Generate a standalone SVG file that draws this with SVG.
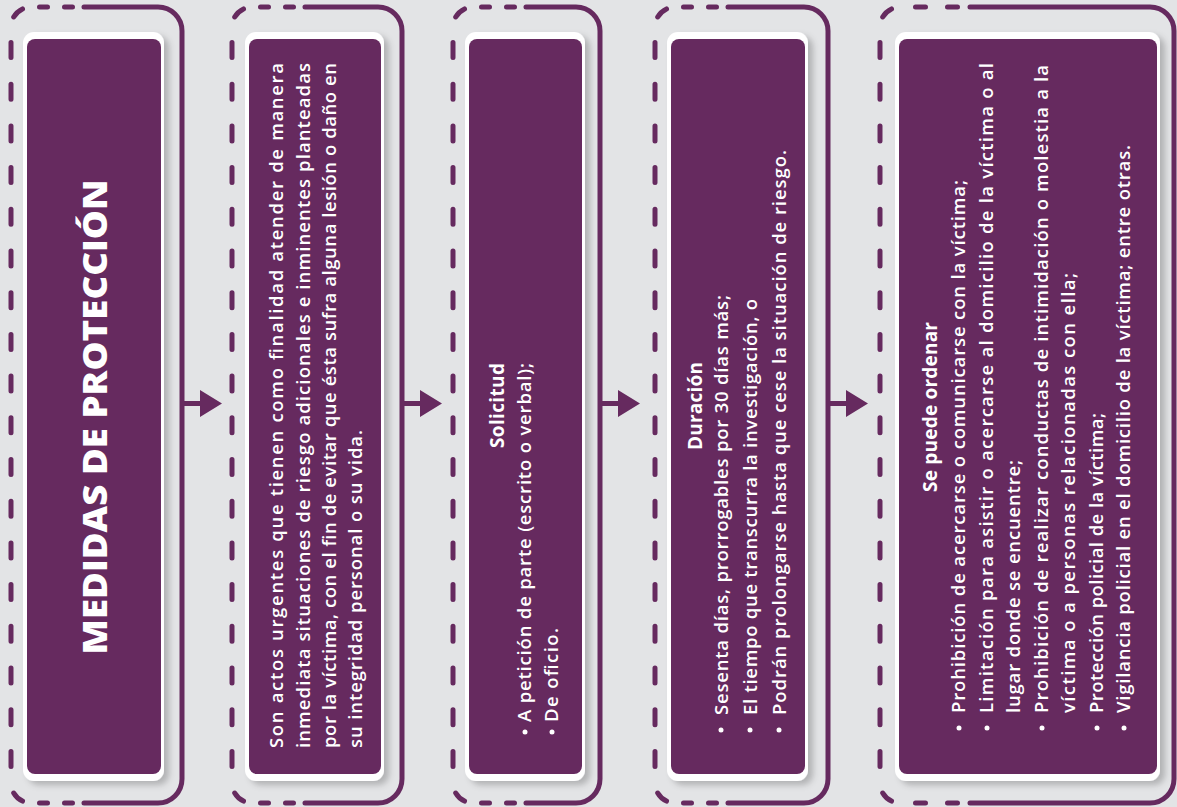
<svg xmlns="http://www.w3.org/2000/svg" width="1177" height="807" viewBox="0 0 1177 807">
  <defs>
    <filter id="sh" x="-10%" y="-5%" width="125%" height="112%">
      <feDropShadow dx="5" dy="4" stdDeviation="3" flood-color="#000" flood-opacity="0.22"/>
    </filter>
    <style>
      .fr{fill:none;stroke:#662a5f;stroke-width:5;stroke-linecap:round}
      .dl{fill:none;stroke:#662a5f;stroke-width:5;stroke-linecap:round;stroke-dasharray:15 26.7}
      .wc{fill:#ffffff;filter:url(#sh)}
      .pc{fill:#662a5f}
      .t{fill:#ffffff;font-family:"Open Sans","Noto Sans","DejaVu Sans",sans-serif;font-size:18.5px;font-weight:600}
      .h{fill:#ffffff;font-family:"Open Sans","Noto Sans","DejaVu Sans",sans-serif;font-size:19px;font-weight:700}
      .big{fill:#ffffff;font-family:"Open Sans","Noto Sans","DejaVu Sans",sans-serif;font-size:33px;font-weight:800}
      .bul{fill:#ffffff}
      .ar{fill:#662a5f}
    </style>
  </defs>
  <rect width="1177" height="807" fill="#e3e4e6"/>

  <g id="node-1">
    <path class="fr" d="M13.7,17 A20 20 0 0 1 22.5,8.9 M39.5,7 H47.5 M64.5,7 H72.5 M13.7,793 A20 20 0 0 0 22.5,801.1 M39.5,803 H47.5 M64.5,803 H72.5"/>
    <path class="dl" d="M11,42.5 V770"/>
    <path class="fr" d="M84,7 H158 A24 24 0 0 1 182,31 V779 A24 24 0 0 1 158,803 H84"/>
    <rect class="wc" x="23" y="32" width="141" height="749" rx="11"/>
    <rect class="pc" x="27" y="39" width="134" height="735" rx="8"/>
    <g transform="rotate(-90)">
      <text class="big" x="-417" y="107" text-anchor="middle" textLength="475" lengthAdjust="spacingAndGlyphs">MEDIDAS DE PROTECCIÓN</text>
    </g>
  </g>

  <g id="node-2">
    <path class="fr" d="M234.7,17 A20 20 0 0 1 243.5,8.9 M260.5,7 H268.5 M285.5,7 H293.5 M234.7,793 A20 20 0 0 0 243.5,801.1 M260.5,803 H268.5 M285.5,803 H293.5"/>
    <path class="dl" d="M232,42.5 V770"/>
    <path class="fr" d="M305,7 H378 A24 24 0 0 1 402,31 V779 A24 24 0 0 1 378,803 H305"/>
    <rect class="wc" x="245" y="32" width="139" height="749" rx="11"/>
    <rect class="pc" x="249" y="39" width="132" height="735" rx="8"/>
    <g transform="rotate(-90)">
      <text class="t" x="-748" y="283" textLength="685" lengthAdjust="spacing">Son actos urgentes que tienen como finalidad atender de manera</text>
      <text class="t" x="-748" y="310" textLength="685" lengthAdjust="spacing">inmediata situaciones de riesgo adicionales e inminentes planteadas</text>
      <text class="t" x="-748" y="336" textLength="685" lengthAdjust="spacing">por la víctima, con el fin de evitar que ésta sufra alguna lesión o daño en</text>
      <text class="t" x="-748" y="362" textLength="318" lengthAdjust="spacing">su integridad personal o su vida.</text>
    </g>
  </g>

  <g id="node-3">
    <path class="fr" d="M455.7,17 A20 20 0 0 1 464.5,8.9 M481.5,7 H489.5 M506.5,7 H514.5 M455.7,793 A20 20 0 0 0 464.5,801.1 M481.5,803 H489.5 M506.5,803 H514.5"/>
    <path class="dl" d="M453,42.5 V770"/>
    <path class="fr" d="M526,7 H576 A24 24 0 0 1 600,31 V779 A24 24 0 0 1 576,803 H526"/>
    <rect class="wc" x="465" y="32" width="120" height="749" rx="11"/>
    <rect class="pc" x="469" y="39" width="113" height="735" rx="8"/>
    <g transform="rotate(-90)">
      <text class="h" x="-405.5" y="504" text-anchor="middle" textLength="85" lengthAdjust="spacing">Solicitud</text>
      <text class="t" x="-722" y="531" textLength="359" lengthAdjust="spacing">A petición de parte (escrito o verbal);</text>
      <text class="t" x="-722" y="558" textLength="94" lengthAdjust="spacing">De oficio.</text>
    </g>
    <circle class="bul" cx="525" cy="732" r="2.5"/>
    <circle class="bul" cx="552" cy="732" r="2.5"/>
  </g>

  <g id="node-4">
    <path class="fr" d="M657.7,17 A20 20 0 0 1 666.5,8.9 M683.5,7 H691.5 M708.5,7 H716.5 M657.7,793 A20 20 0 0 0 666.5,801.1 M683.5,803 H691.5 M708.5,803 H716.5"/>
    <path class="dl" d="M655,42.5 V770"/>
    <path class="fr" d="M728,7 H804 A24 24 0 0 1 828,31 V779 A24 24 0 0 1 804,803 H728"/>
    <rect class="wc" x="667" y="32" width="141" height="749" rx="11"/>
    <rect class="pc" x="671" y="39" width="134" height="735" rx="8"/>
    <g transform="rotate(-90)">
      <text class="h" x="-406" y="702" text-anchor="middle" textLength="88" lengthAdjust="spacing">Duración</text>
      <text class="t" x="-715" y="728" textLength="420" lengthAdjust="spacing">Sesenta días, prorrogables por 30 días más;</text>
      <text class="t" x="-715" y="757" textLength="416" lengthAdjust="spacing">El tiempo que transcurra la investigación, o</text>
      <text class="t" x="-715" y="786" textLength="565" lengthAdjust="spacing">Podrán prolongarse hasta que cese la situación de riesgo.</text>
    </g>
    <circle class="bul" cx="721" cy="730" r="2.5"/>
    <circle class="bul" cx="750" cy="730" r="2.5"/>
    <circle class="bul" cx="779" cy="730" r="2.5"/>
  </g>

  <g id="node-5">
    <path class="fr" d="M882.7,17 A20 20 0 0 1 891.5,8.9 M915.5,7 H925.5 M947.5,7 H957.5 M882.7,793 A20 20 0 0 0 891.5,801.1 M915.5,803 H925.5 M947.5,803 H957.5"/>
    <path class="dl" d="M880,42.5 V770"/>
    <path class="fr" d="M970,7 H1150 A24 24 0 0 1 1174,31 V779 A24 24 0 0 1 1150,803 H970"/>
    <rect class="wc" x="895" y="32" width="265" height="749" rx="11"/>
    <rect class="pc" x="899" y="39" width="258" height="735" rx="8"/>
    <g transform="rotate(-90)">
      <text class="h" x="-407" y="937" text-anchor="middle" textLength="170" lengthAdjust="spacing">Se puede ordenar</text>
      <text class="t" x="-713" y="965" textLength="533" lengthAdjust="spacing">Prohibición de acercarse o comunicarse con la víctima;</text>
      <text class="t" x="-713" y="993" textLength="650" lengthAdjust="spacing">Limitación para asistir o acercarse al domicilio de la víctima o al</text>
      <text class="t" x="-713" y="1020" textLength="253" lengthAdjust="spacing">lugar donde se encuentre;</text>
      <text class="t" x="-713" y="1048" textLength="648" lengthAdjust="spacing">Prohibición de realizar conductas de intimidación o molestia a la</text>
      <text class="t" x="-713" y="1075" textLength="440" lengthAdjust="spacing">víctima o a personas relacionadas con ella;</text>
      <text class="t" x="-713" y="1103" textLength="300" lengthAdjust="spacing">Protección policial de la víctima;</text>
      <text class="t" x="-713" y="1130" textLength="568" lengthAdjust="spacing">Vigilancia policial en el domicilio de la víctima; entre otras.</text>
    </g>
    <circle class="bul" cx="959" cy="728" r="2.5"/>
    <circle class="bul" cx="987" cy="728" r="2.5"/>
    <circle class="bul" cx="1042" cy="728" r="2.5"/>
    <circle class="bul" cx="1097" cy="728" r="2.5"/>
    <circle class="bul" cx="1124" cy="728" r="2.5"/>
  </g>

  <g id="connectors">
    <path class="ar" d="M182,401 H200 V390 L222,403.5 L200,417 V406 H182 Z"/>
    <path class="ar" d="M402,401 H420 V390 L442,403.5 L420,417 V406 H402 Z"/>
    <path class="ar" d="M600,401 H618 V390 L640,403.5 L618,417 V406 H600 Z"/>
    <path class="ar" d="M828,401 H846 V390 L868,403.5 L846,417 V406 H828 Z"/>
  </g>
</svg>
